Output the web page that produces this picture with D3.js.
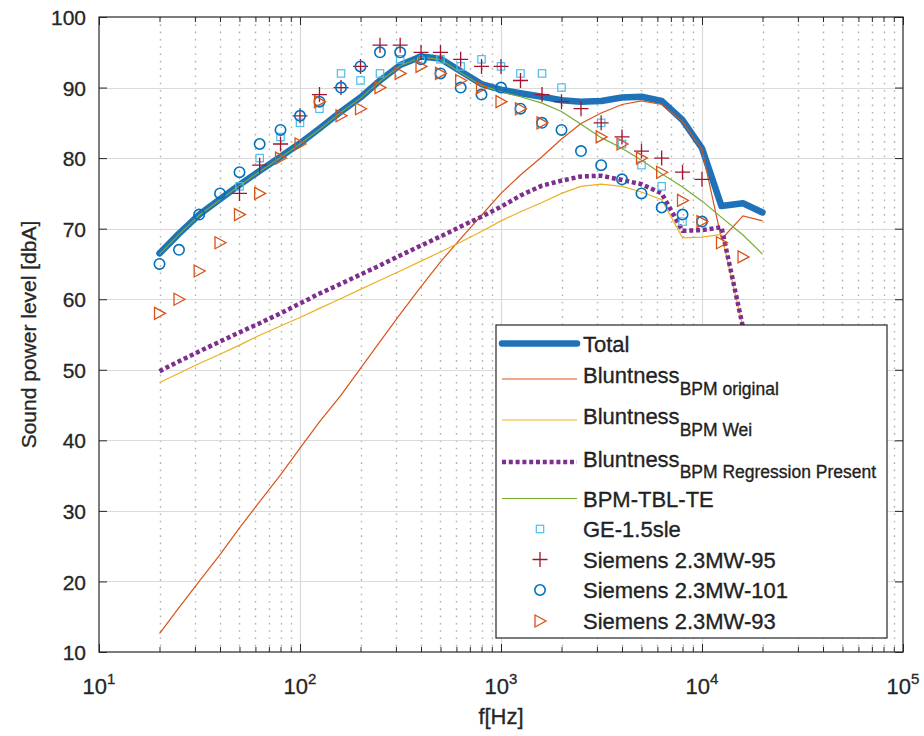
<!DOCTYPE html>
<html>
<head>
<meta charset="utf-8">
<script src="https://d3js.org/d3.v7.min.js"></script>
<style>
  body { margin: 0; background: #fff; }
  text { font-family: "Liberation Sans", Arial, sans-serif; fill: #262626; stroke: #262626; stroke-width: 0.3px; }
</style>
</head>
<body>
<svg id="chart" width="924" height="736"></svg>
<script>

// 1/3 octave band centre frequencies (Hz)
var freqs = [20, 25, 31.5, 40, 50, 63, 80, 100, 125, 160, 200, 250, 315, 400, 500, 630,
             800, 1000, 1250, 1600, 2000, 2500, 3150, 4000, 5000, 6300, 8000, 10000,
             12500, 16000, 20000];

// model curves (dBA)
var total =     [66.5, 69.3, 72.0, 74.2, 76.2, 78.2, 80.2, 82.1, 84.2, 86.6, 88.6, 91.0, 93.2, 94.4, 94.1, 92.3,
                 90.5, 89.7, 89.2, 88.7, 88.2, 88.0, 88.1, 88.6, 88.7, 88.1, 85.4, 81.4, 73.2, 73.6, 72.3];
var bluntOrig = [12.6, 16.3, 20.0, 23.8, 27.6, 31.3, 35.1, 38.9, 42.6, 46.4, 50.2, 54.0, 57.9, 61.8, 65.3, 68.6,
                 71.9, 75.0, 77.6, 80.2, 82.7, 84.9, 86.4, 87.6, 88.1, 87.6, 85.2, 81.2, 68.5, 71.8, 71.1];
var bluntWei =  [48.2, 49.5, 50.9, 52.2, 53.5, 54.9, 56.2, 57.4, 58.7, 60.1, 61.4, 62.7, 64.0, 65.4, 66.7, 68.1,
                 69.6, 71.1, 72.4, 73.7, 75.0, 76.0, 76.3, 76.0, 75.2, 74.1, 68.7, 68.8, 69.2, 56.0, 40.0];
var bluntReg =  [49.8, 51.2, 52.6, 54.0, 55.3, 56.6, 58.0, 59.4, 60.8, 62.2, 63.5, 64.8, 66.2, 67.6, 68.9, 70.3,
                 71.7, 73.1, 74.7, 76.1, 76.8, 77.4, 77.5, 76.9, 76.3, 75.0, 69.7, 69.8, 70.2, 56.0, 40.0];
var tblTe =     [66.4, 69.2, 71.9, 74.1, 76.1, 78.1, 80.1, 82.0, 84.1, 86.5, 88.5, 90.9, 93.1, 94.3, 94.0, 92.1,
                 90.3, 89.4, 88.7, 87.8, 86.6, 84.8, 82.9, 81.4, 79.7, 77.8, 75.9, 73.9, 71.6, 69.1, 66.4];

// measurements (dBA), null = no point
var ge15 =      [null, null, null, null, 76, 80, 83, 85, 87, 92, 91, 92, 94, 94, 94, 93,
                 94, 93, 92, 92, 90, null, 85, 82, 79, 76, 71, null, null, null, null];
var siemens95 = [null, null, null, null, 75, 79, 82, 86, 89, 90, 93, 96, 96, 95, 95, 94,
                 93, 93, 91, 89, 88, 87, 85, 83, 81, 80, 78, 77, null, null, null];
var siemens101 = [65, 67, 72, 75, 78, 82, 84, 86, 88, 90, 93, 95, 95, 94, 92, 90,
                 89, 90, 87, 85, 84, 81, 79, 77, 75, 73, 72, 71, null, null, null];
var siemens93 = [58, 60, 64, 68, 72, 75, 80, 82, 88, 86, 87, 90, 92, 93, 92, 91,
                 90, 88, 87, 85, null, null, 83, 82, 80, 78, 74, 71, 68, 66, null];

var xMajor = [10, 100, 1000, 10000, 100000];
var xExp = ["1", "2", "3", "4", "5"];
var yTicks = [10, 20, 30, 40, 50, 60, 70, 80, 90, 100];

var svg = d3.select("#chart");
var pL = 99, pR = 903, pT = 17, pB = 652;

var x = d3.scaleLog().domain([10, 100000]).range([pL, pR]);
var y = d3.scaleLinear().domain([10, 100]).range([pB, pT]);

var xMinor = x.ticks().filter(function(t) { return xMajor.indexOf(t) < 0; });

// grid
var grid = svg.append("g");
grid.selectAll(".minor").data(xMinor).enter().append("line")
  .attr("x1", function(d) { return Math.round(x(d)) + 0.5; })
  .attr("x2", function(d) { return Math.round(x(d)) + 0.5; })
  .attr("y1", pT).attr("y2", pB)
  .attr("stroke", "#b0b0b0").attr("stroke-width", 1.4)
  .attr("stroke-dasharray", "1.6,5.7");
grid.selectAll(".majx").data(xMajor.slice(1, 4)).enter().append("line")
  .attr("x1", function(d) { return Math.round(x(d)) + 0.5; })
  .attr("x2", function(d) { return Math.round(x(d)) + 0.5; })
  .attr("y1", pT).attr("y2", pB)
  .attr("stroke", "#dadada").attr("stroke-width", 1.2);
grid.selectAll(".majy").data(yTicks.slice(1, 9)).enter().append("line")
  .attr("x1", pL).attr("x2", pR)
  .attr("y1", function(d) { return Math.round(y(d)) + 0.5; })
  .attr("y2", function(d) { return Math.round(y(d)) + 0.5; })
  .attr("stroke", "#dadada").attr("stroke-width", 1.2);

// curves
svg.append("clipPath").attr("id", "plotclip").append("rect")
  .attr("x", pL).attr("y", pT).attr("width", pR - pL).attr("height", pB - pT);

function linePath(vals) {
  return d3.line()
    .defined(function(d, i) { return vals[i] != null; })
    .x(function(d) { return x(d); })
    .y(function(d, i) { return y(vals[i]); })(freqs);
}

var curves = svg.append("g").attr("clip-path", "url(#plotclip)");
curves.append("path").attr("d", linePath(total))
  .attr("fill", "none").attr("stroke", "#1f72b8").attr("stroke-width", 6.5)
  .attr("stroke-linejoin", "round").attr("stroke-linecap", "round");
curves.append("path").attr("d", linePath(bluntOrig))
  .attr("fill", "none").attr("stroke", "#D95319").attr("stroke-width", 1.2);
curves.append("path").attr("d", linePath(bluntWei))
  .attr("fill", "none").attr("stroke", "#EDB120").attr("stroke-width", 1.2);
curves.append("path").attr("d", linePath(bluntReg))
  .attr("fill", "none").attr("stroke", "#7E2F8E").attr("stroke-width", 4.5)
  .attr("stroke-dasharray", "4,2.8");
curves.append("path").attr("d", linePath(tblTe))
  .attr("fill", "none").attr("stroke", "#77AC30").attr("stroke-width", 1.2);

// markers
function markerShape(g, kind) {
  if (kind === "square") {
    g.append("rect").attr("x", -3.7).attr("y", -3.7).attr("width", 7.4).attr("height", 7.4)
      .attr("fill", "none").attr("stroke", "#4DBEEE").attr("stroke-width", 1.2);
  } else if (kind === "plus") {
    g.append("path").attr("d", "M-7.5,0H7.5M0,-7.5V7.5")
      .attr("fill", "none").attr("stroke", "#A2142F").attr("stroke-width", 1.3);
  } else if (kind === "circle") {
    g.append("circle").attr("r", 5.2)
      .attr("fill", "none").attr("stroke", "#0072BD").attr("stroke-width", 1.6);
  } else {
    g.append("path").attr("d", "M-5,-6L6,0L-5,6Z")
      .attr("fill", "none").attr("stroke", "#D95319").attr("stroke-width", 1.3);
  }
}

function drawPoints(vals, kind) {
  var pts = freqs.map(function(f, i) { return { f: f, v: vals[i] }; })
    .filter(function(d) { return d.v != null; });
  svg.append("g").selectAll("g").data(pts).enter().append("g")
    .attr("transform", function(d) { return "translate(" + x(d.f) + "," + y(d.v) + ")"; })
    .each(function() { markerShape(d3.select(this), kind); });
}
drawPoints(ge15, "square");
drawPoints(siemens95, "plus");
drawPoints(siemens101, "circle");
drawPoints(siemens93, "triangle");

// axes (ticks inside, box on)
function styleAxis(g) {
  g.select(".domain").remove();
  g.selectAll(".tick line").attr("stroke", "#262626");
}
var noLabel = function() { return ""; };

svg.append("g").attr("transform", "translate(0," + pB + ")")
  .call(d3.axisBottom(x).tickValues(xMajor).tickSizeInner(-8).tickSizeOuter(0).tickFormat(noLabel))
  .call(styleAxis);
svg.append("g").attr("transform", "translate(0," + pB + ")")
  .call(d3.axisBottom(x).tickValues(xMinor).tickSizeInner(-5).tickSizeOuter(0).tickFormat(noLabel))
  .call(styleAxis);
svg.append("g").attr("transform", "translate(0," + pT + ")")
  .call(d3.axisTop(x).tickValues(xMajor).tickSizeInner(-8).tickSizeOuter(0).tickFormat(noLabel))
  .call(styleAxis);
svg.append("g").attr("transform", "translate(0," + pT + ")")
  .call(d3.axisTop(x).tickValues(xMinor).tickSizeInner(-5).tickSizeOuter(0).tickFormat(noLabel))
  .call(styleAxis);

var yAxisG = svg.append("g").attr("transform", "translate(" + pL + ",0)")
  .call(d3.axisLeft(y).tickValues(yTicks).tickSizeInner(-8).tickSizeOuter(0).tickPadding(13))
  .call(styleAxis);
yAxisG.selectAll("text").attr("font-size", 21).attr("dy", "0.36em")
  .style("font-family", "'Liberation Sans', Arial, sans-serif").attr("fill", "#262626");
svg.append("g").attr("transform", "translate(" + pR + ",0)")
  .call(d3.axisRight(y).tickValues(yTicks).tickSizeInner(-8).tickSizeOuter(0).tickFormat(noLabel))
  .call(styleAxis);

svg.append("rect").attr("x", pL).attr("y", pT)
  .attr("width", pR - pL).attr("height", pB - pT)
  .attr("fill", "none").attr("stroke", "#262626").attr("stroke-width", 1.2);

// x tick labels 10^n
var xl = svg.append("g").selectAll("text").data(xMajor).enter().append("text")
  .attr("x", function(d) { return x(d); })
  .attr("y", 694)
  .attr("text-anchor", "middle")
  .attr("font-size", 22);
xl.append("tspan").text("10");
xl.append("tspan").attr("font-size", 15).attr("dy", -10)
  .text(function(d, i) { return xExp[i]; });

// axis titles
svg.append("text").attr("x", (pL + pR) / 2).attr("y", 724)
  .attr("text-anchor", "middle").attr("font-size", 22).text("f[Hz]");
svg.append("text")
  .attr("transform", "translate(36," + ((pT + pB) / 2) + ") rotate(-90)")
  .attr("text-anchor", "middle").attr("font-size", 21).text("Sound power level [dbA]");

// legend
var legendMain = ["Total", "Bluntness", "Bluntness", "Bluntness", "BPM-TBL-TE",
                  "GE-1.5sle", "Siemens 2.3MW-95", "Siemens 2.3MW-101", "Siemens 2.3MW-93"];
var legendSub = ["", "BPM original", "BPM Wei", "BPM Regression Present", "", "", "", "", ""];
var legendBase = [352, 383, 424, 466.5, 507, 537, 568, 598, 629];
var legendSymY = [343.5, 379, 420, 462, 498.5, 529, 559.5, 590, 621];

var lg = svg.append("g");
lg.append("rect").attr("x", 496).attr("y", 325).attr("width", 391).attr("height", 313)
  .attr("fill", "#fff").attr("stroke", "#262626").attr("stroke-width", 1.2);

var symStyles = [
  { c: "#1f72b8", w: 6.5, dash: null, cap: "round" },
  { c: "#D95319", w: 1.2 },
  { c: "#EDB120", w: 1.2 },
  { c: "#7E2F8E", w: 4.5, dash: "4,2.8" },
  { c: "#77AC30", w: 1.2 }
];
symStyles.forEach(function(s, i) {
  lg.append("line").attr("x1", 502).attr("x2", 577)
    .attr("y1", legendSymY[i]).attr("y2", legendSymY[i])
    .attr("stroke", s.c).attr("stroke-width", s.w)
    .attr("stroke-dasharray", s.dash || null)
    .attr("stroke-linecap", s.cap || "butt");
});
["square", "plus", "circle", "triangle"].forEach(function(k, j) {
  var g = lg.append("g").attr("transform", "translate(540," + legendSymY[5 + j] + ")");
  markerShape(g, k);
});

var lt = lg.selectAll(".lt").data(legendMain).enter().append("text")
  .attr("x", 583).attr("y", function(d, i) { return legendBase[i]; })
  .attr("font-size", 22).attr("fill", "#111").style("stroke", "#111");
lt.append("tspan").text(function(d) { return d; });
lt.append("tspan").attr("font-size", 17.5).attr("dy", 11.5)
  .text(function(d, i) { return legendSub[i]; });

</script>
</body>
</html>
